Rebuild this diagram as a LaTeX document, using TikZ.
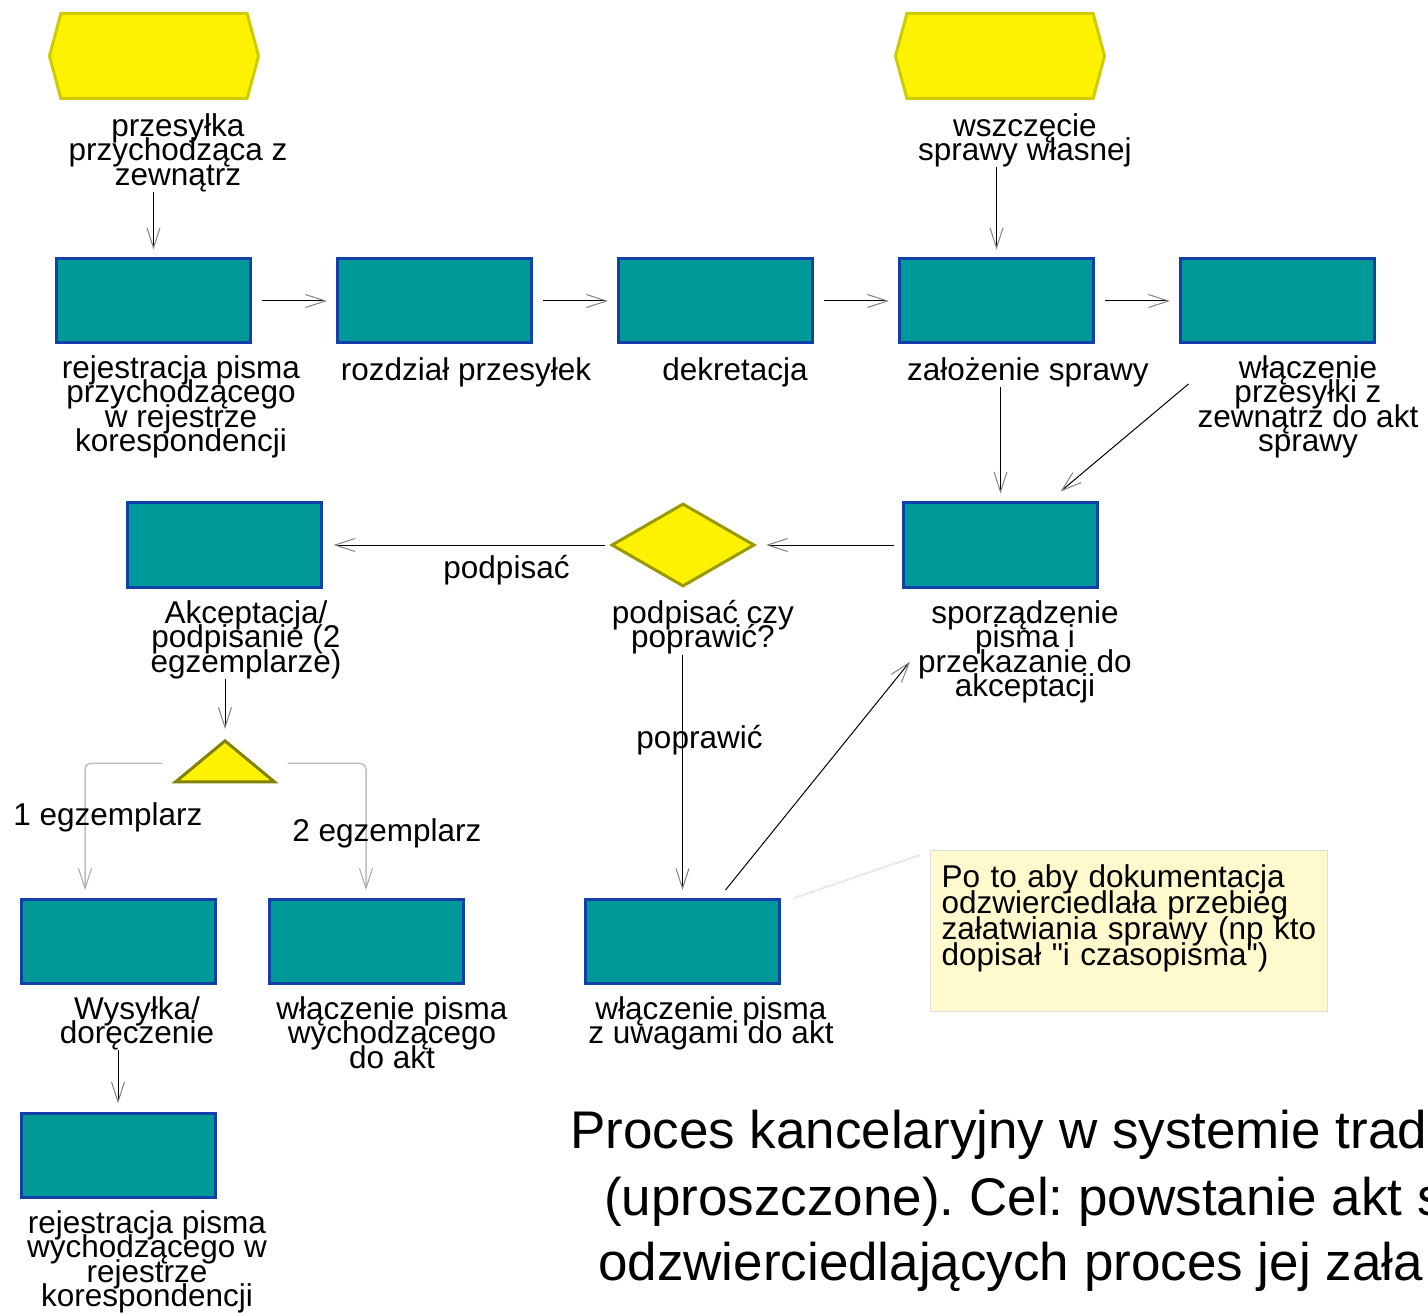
\documentclass[tikz,border=0pt]{standalone}
\usepackage{fontspec}
\setmainfont{Liberation Sans}[Ligatures=TeXOff]
\usetikzlibrary{positioning, arrows.meta, shapes.geometric, shapes.symbols}

\definecolor{taskfill}{RGB}{0,153,153}
\definecolor{taskline}{RGB}{16,64,168}
\definecolor{eventline}{RGB}{204,204,0}
\definecolor{gateline}{RGB}{153,153,0}
\definecolor{notefill}{RGB}{255,250,205}
\definecolor{noteline}{RGB}{222,222,222}
\frenchspacing
\newcommand{\lblfont}{\fontsize{31.5}{24.5}\selectfont\lineskiplimit=-100pt\relax}
\newcommand{\notefont}{\fontsize{31.5}{26}\selectfont\lineskiplimit=-100pt\relax}

\begin{document}
\begin{tikzpicture}[x=1pt,y=-1pt,node distance=84pt,
    font=\lblfont,
    flow/.style={draw=black,line width=1pt,shorten >=8pt,
        -{Straight Barb[length=20pt,width=13pt,line width=1pt,color=gray]}},
    branch/.style={draw=gray!50,line width=1.5pt,rounded corners=6pt,shorten >=8pt,
        -{Straight Barb[length=20pt,width=13pt,line width=1pt,color=gray!70]}},
    task/.style={rectangle,draw=taskline,fill=taskfill,line width=3pt,minimum width=194pt,minimum height=84pt},
    event/.style={signal,signal to=west and east,signal pointer angle=150,fill=yellow,draw=eventline,
        line width=3pt,minimum width=209pt,minimum height=85pt,inner sep=0pt},
    gate/.style={diamond,fill=yellow,draw=gateline,line width=3pt,minimum width=143pt,minimum height=83pt,inner sep=0pt},
    split/.style={isosceles triangle,isosceles triangle stretches,shape border rotate=90,fill=yellow,
        draw=gateline!85!black,line width=3pt,minimum width=99pt,minimum height=41pt,inner sep=0pt},
    lbl/.style={align=center,inner sep=0pt,anchor=north},
    elbl/.style={inner sep=0pt},
    note/.style={rectangle,draw=noteline,fill=notefill,line width=1pt,text width=375pt,align=left,
        inner xsep=11pt,inner ysep=14pt,anchor=north west,font=\notefont},
    title/.style={inner sep=0pt,anchor=base west,font=\fontsize{53}{65}\selectfont}]

\useasboundingbox (0,0) rectangle (1428,1313);

% start events
\node[event] (e1) at (154,56) {};
\node[lbl]   (e1l) at (178,113) {przesyłka\\przychodząca z\\zewnątrz};
\node[event] (e2) at (1000,56) {};
\node[lbl]   (e2l) at (1025,113) {wszczęcie\\sprawy własnej};

% first row
\node[task] (t1) at (153.5,301) {};
\node[task] (t2) [right=of t1] {};
\node[task] (t3) [right=of t2] {};
\node[task] (t4) [right=of t3] {};
\node[task] (t5) [right=of t4] {};
\node[lbl] (t1l) at (181,355) {rejestracja pisma\\przychodzącego\\w rejestrze\\korespondencji};
\node[lbl] (t2l) at (466,357) {rozdział przesyłek};
\node[lbl] (t3l) at (735,357) {dekretacja};
\node[lbl] (t4l) at (1028,357) {założenie sprawy};
\node[lbl] (t5l) at (1308,355) {włączenie\\przesyłki z\\zewnątrz do akt\\sprawy};

% second row
\node[task] (t6) at (224,545) {};
\node[gate] (d1) at (683,545) {};
\node[task] (t7) at (1000.5,545) {};
\node[lbl] (t6l) at (246,600) {Akceptacja/\\podpisanie (2\\egzemplarze)};
\node[lbl] (d1l) at (703,600) {podpisać czy\\poprawić?};
\node[lbl] (t7l) at (1025,600) {sporządzenie\\pisma i\\przekazanie do\\akceptacji};

% split and third row
\node[split,anchor=apex] (g2) at (225,737) {};
\node[task] (t9) at (118,941.5) {};
\node[task] (t10) at (366,941.5) {};
\node[task] (t8) at (682.5,941.5) {};
\node[lbl] (t9l) at (137,996) {Wysyłka/\\doręczenie};
\node[lbl] (t10l) at (392,996) {włączenie pisma\\wychodzącego\\do akt};
\node[lbl] (t8l) at (711,996) {włączenie pisma\\z uwagami do akt};
\node[task] (t11) at (118,1155) {};
\node[lbl] (t11l) at (147,1210) {rejestracja pisma\\wychodzącego w\\rejestrze\\korespondencji};

\node[note,text depth=110pt] (note) at (930,850) {Po to aby dokumentacja\\odzwierciedlała przebieg\\załatwiania sprawy (np kto\\dopisał "i czasopisma")};

\node[title] (title1) at (570,1148) {Proces kancelaryjny w systemie trad};
\node[title] (title2) at (604,1215) {(uproszczone). Cel: powstanie akt s};
\node[title] (title3) at (598,1280) {odzwierciedlających proces jej zała};

% connectors
\draw[flow] (e1l.south -| t1.north) -- (t1.north);
\draw[flow] (e2l.south -| t4.north) -- (t4.north);
\draw[flow,shorten <=10pt,shorten >=9pt] (t1) -- (t2);
\draw[flow,shorten <=10pt,shorten >=9pt] (t2) -- (t3);
\draw[flow,shorten <=10pt,shorten >=9pt] (t3) -- (t4);
\draw[flow,shorten <=10pt,shorten >=9pt] (t4) -- (t5);
\draw[flow] (t4l.south -| t7.north) -- (t7.north);
\draw[flow,shorten >=0pt] ([xshift=-9pt,yshift=-29pt]t5l.north west) -- ([xshift=60pt,yshift=10pt]t7.north);
\draw[flow,shorten <=8pt,shorten >=10pt] (t7.west) -- (d1.east);
\draw[flow,shorten <=5pt,shorten >=11pt] (d1.west) -- node[elbl,below=10pt,pos=0.36] (l1) {podpisać} (t6.east);
\draw[flow] (d1l.south -| t8.north) -- node[elbl,pos=0.35,xshift=17pt] (l2) {poprawić} (t8.north);
\draw[flow,shorten >=0pt] ([xshift=43pt,yshift=8pt]t8.north) -- ([xshift=-8pt,yshift=-10pt]t7l.west);
\draw[flow] (t6l.south -| g2.apex) -- (g2.apex);
\draw[branch] ([xshift=-9pt,yshift=20pt]g2.left corner) -| node[elbl,pos=0.7,xshift=23pt] (l3) {1 egzemplarz} ([xshift=-33pt]t9.north);
\draw[branch] ([xshift=9pt,yshift=20pt]g2.right corner) -| node[elbl,pos=0.76,xshift=21pt] (l4) {2 egzemplarz} (t10.north);
\draw[flow] (t9l.south -| t11.north) -- (t11.north);
\draw[draw=gray!30,line width=2pt,dash pattern=on 1pt off 1pt] ([xshift=13pt]t8.north east) -- ([xshift=-10pt,yshift=-5pt]note.north west);

\end{tikzpicture}
\end{document}
